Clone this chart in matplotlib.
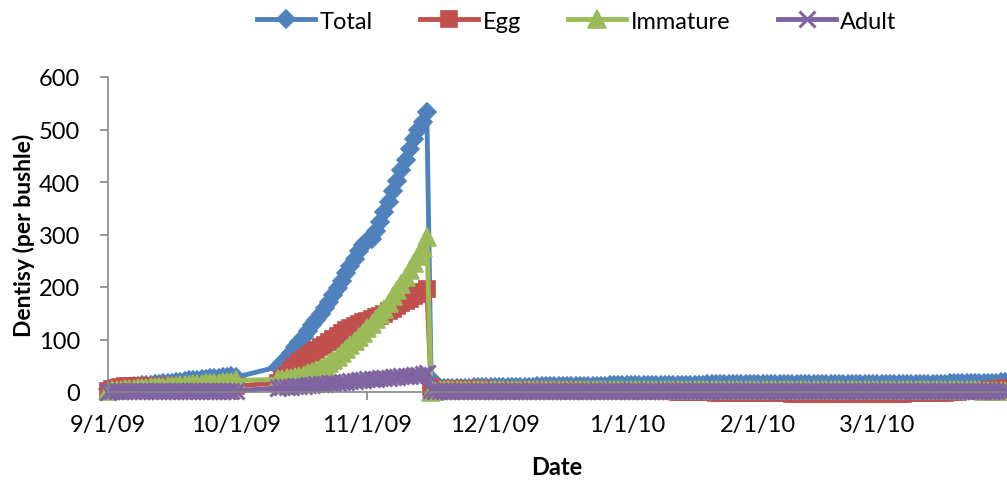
import matplotlib

matplotlib.use("Agg")
import matplotlib.pyplot as plt
import pandas as pd

plt.rcParams["font.family"] = ["Lato", "DejaVu Sans"]

# sampling days: three daily runs with a gap 10/2 - 10/10
SEGMENTS = [("2009-09-01", "2009-10-01"),
            ("2009-10-11", "2009-11-15"),
            ("2009-11-16", "2010-03-31")]

# ---- Total ----
total_sep = [6, 7, 8, 9, 9, 10, 11, 12, 13, 13, 14, 15, 16, 17, 18, 18,
             19, 20, 21, 22, 22, 23, 24, 25, 26, 26, 27, 28, 29, 30, 28]
total_oct = [48, 56, 65, 75, 85, 95, 105, 116, 127, 138, 149, 160, 172, 185,
             198, 212, 226, 240, 254, 268, 280, 287, 292, 306, 324, 343, 362,
             382, 402, 422, 442, 462, 481, 499, 515, 533]
total_win = ([25, 8, 7, 7, 7, 8, 8, 8, 8, 8, 9, 9, 9, 9, 9]
             + [9, 9, 9, 10, 10, 10, 10, 10, 10, 10, 11, 11, 11, 11, 11, 11,
                11, 11, 12, 12, 12, 12, 12, 12, 12, 12, 12, 13, 13, 13, 13]
             + [13, 13, 13, 13, 13, 13, 13, 14, 14, 14, 14, 14, 14, 14, 14, 14,
                14, 14, 14, 15, 15, 15, 15, 15, 15, 15, 15, 15, 15, 15, 15]
             + [15, 15, 15, 15, 15, 15, 15, 15, 15, 15, 15, 15, 15, 15,
                15, 15, 15, 15, 15, 15, 15, 15, 15, 15, 15, 15, 15, 15]
             + [15, 15, 15, 15, 15, 15, 15, 15, 16, 16, 16, 16, 16, 16, 16, 16,
                16, 17, 17, 17, 17, 17, 17, 17, 18, 18, 18, 18, 18, 19, 19])

# ---- Egg ----
egg_sep = [2, 5, 8, 10, 11, 12, 12, 12, 12, 12, 12, 12, 12, 12, 11, 11,
           11, 11, 11, 10, 10, 10, 10, 10, 9, 9, 9, 9, 9, 10, 11]
egg_oct = [18, 25, 33, 42, 50, 57, 63, 69, 75, 80, 85, 90, 95, 101, 107, 113,
           118, 122, 126, 130, 133, 136, 139, 142, 145, 149, 154, 159, 164,
           169, 174, 178, 182, 186, 190, 196]
egg_win = ([10, 6, 5, 5, 5, 5, 5, 5, 5, 5, 5, 5, 5, 4, 4]
           + [4, 4, 4, 4, 4, 4, 4, 4, 4, 3, 3, 3, 3, 3, 3, 3,
              3, 3, 3, 3, 3, 2, 2, 2, 2, 2, 2, 2, 2, 2, 2]
           + [2, 2, 2, 1, 1, 1, 1, 1, 1, 1, 1, 1, 0, 0, 0, 0,
              0, 0, 0, 0, 0, -1, -1, -1, -1, -1, -1, -1, -1, -1, -2]
           + [-2, -2, -2, -2, -2, -2, -2, -2, -3, -3, -3, -3, -3, -3,
              -3, -3, -3, -3, -3, -3, -3, -3, -3, -3, -3, -3, -3, -3]
           + [-3, -3, -3, -3, -3, -3, -3, -2, -2, -2, -2, -2, -2, -1, -1, -1,
              -1, 0, 0, 0, 1, 1, 1, 2, 2, 3, 3, 4, 5, 6, 8])

# ---- Immature ----
imm_sep = [2, 3, 3, 4, 5, 5, 6, 7, 7, 8, 9, 9, 10, 10, 11, 12,
           12, 13, 14, 14, 15, 15, 16, 17, 17, 18, 18, 19, 20, 20, 22]
imm_oct = [24, 25, 26, 27, 29, 31, 33, 36, 39, 42, 46, 50, 55, 61, 67, 74,
           81, 89, 97, 105, 113, 121, 130, 139, 149, 159, 170, 182, 194,
           206, 219, 232, 246, 260, 275, 296]
imm_win = ([0, 2, 3, 3, 3, 3, 3, 3, 3, 3, 3, 3, 3, 3, 3]
           + [3, 3, 3, 3, 3, 3, 3, 3, 3, 3, 3, 4, 4, 4, 4, 4,
              4, 4, 4, 4, 4, 4, 4, 4, 4, 4, 4, 4, 4, 4, 4]
           + [4, 4, 4, 4, 4, 4, 4, 4, 4, 4, 4, 4, 4, 4, 4, 4,
              4, 4, 4, 4, 4, 4, 4, 4, 4, 4, 4, 4, 4, 4, 4]
           + [4, 4, 4, 4, 4, 4, 4, 4, 4, 4, 4, 4, 4, 4,
              4, 4, 4, 4, 4, 4, 4, 4, 4, 4, 4, 4, 4, 4]
           + [4, 4, 4, 4, 4, 4, 4, 4, 4, 4, 4, 4, 4, 4, 4, 4,
              3, 3, 3, 3, 3, 3, 3, 3, 3, 2, 2, 2, 2, 1, 1])

# ---- Adult ----
adult_sep = [0, 1, 1, 1, 1, 1, 1, 1, 2, 2, 2, 2, 2, 2, 2, 2,
             2, 2, 2, 2, 2, 2, 2, 2, 2, 2, 2, 2, 2, 2, 2]
adult_oct = [8, 9, 9, 10, 11, 12, 12, 13, 14, 15, 15, 16, 17, 18, 18, 19,
             20, 21, 21, 22, 23, 24, 24, 25, 26, 27, 27, 28, 29, 30, 30, 31,
             32, 33, 34, 37]
adult_win = ([3, 2, 2, 2, 2, 2, 2, 2, 2, 2, 2, 2, 2, 2, 2]
             + [2] * 31 + [2] * 31 + [1] * 28 + [1] * 31)

SERIES = ["Total", "Egg", "Immature", "Adult"]
COLORS = ["#4F81BD", "#C0504D", "#9BBB59", "#8064A2"]
MARKERS = [("D", 9.5), ("s", 11), ("^", 12.5), ("x", 11)]

TICK_DATES = ["2009-09-01", "2009-10-01", "2009-11-01", "2009-12-01",
              "2010-01-01", "2010-02-01", "2010-03-01"]
TICK_LABELS = ["9/1/09", "10/1/09", "11/1/09", "12/1/09",
               "1/1/10", "2/1/10", "3/1/10"]

dates = pd.DatetimeIndex([])
for start, end in SEGMENTS:
    dates = dates.append(pd.date_range(start, end, freq="D"))

values = {
    "Total": total_sep + total_oct + total_win,
    "Egg": egg_sep + egg_oct + egg_win,
    "Immature": imm_sep + imm_oct + imm_win,
    "Adult": adult_sep + adult_oct + adult_win,
}

fig = plt.figure(figsize=(10.07, 4.85), dpi=100)
ax = fig.add_axes([108 / 1007, 92 / 485, 897 / 1007, 315 / 485])

for name, color, (mk, ms) in zip(SERIES, COLORS, MARKERS):
    ax.plot(dates, values[name], color=color, lw=3.5, marker=mk, ms=ms,
            mfc=color, mec=color, mew=2.2 if mk == "x" else 1.2,
            label=name, clip_on=False, solid_joinstyle="round")

ax.set_xlim(pd.Timestamp("2009-09-01"), pd.Timestamp("2010-03-31"))
ax.set_ylim(0, 600)
ax.set_yticks(range(0, 601, 100))
ax.set_xticks(pd.to_datetime(TICK_DATES))
ax.set_xticklabels(TICK_LABELS)

for side in ("top", "right"):
    ax.spines[side].set_visible(False)
for side in ("left", "bottom"):
    ax.spines[side].set_color("#868686")
    ax.spines[side].set_linewidth(1.2)
ax.tick_params(axis="both", colors="#868686", labelcolor="black",
               labelsize=17, length=6, width=1.2)
ax.tick_params(axis="y", pad=14)
ax.tick_params(axis="x", pad=10)

ax.set_xlabel("Date", fontsize=17, fontweight="bold", labelpad=14)
ax.set_ylabel("Dentisy (per bushle)", fontsize=16.5, fontweight="bold",
              labelpad=3)

fig.legend(loc="upper center", bbox_to_anchor=(577 / 1007, 1.02), ncol=4,
           frameon=False, fontsize=17, handlelength=2.45, handletextpad=0.2,
           columnspacing=2.0, numpoints=1)

fig.savefig("out.png", dpi=100)
